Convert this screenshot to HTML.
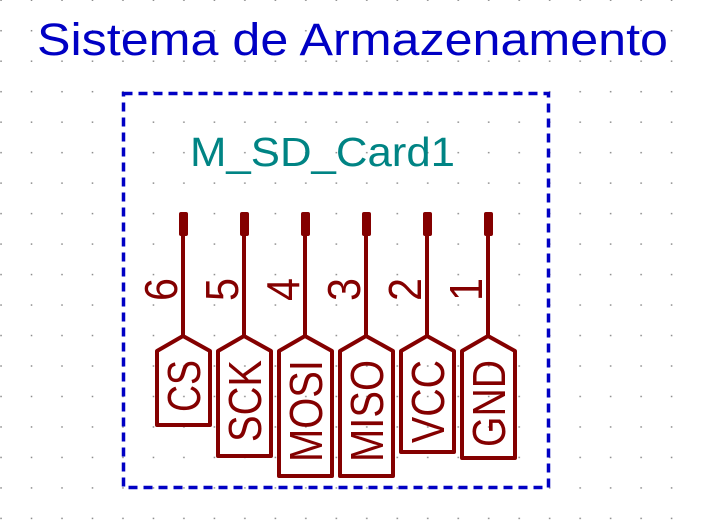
<!DOCTYPE html>
<html><head><meta charset="utf-8"><style>html,body{margin:0;padding:0;background:#fff}svg{display:block}</style></head>
<body>
<svg width="701" height="520" viewBox="0 0 701 520" xmlns="http://www.w3.org/2000/svg">
<defs>
<pattern id="g" x="0" y="-0.5" width="30.48" height="30.48" patternUnits="userSpaceOnUse">
<rect x="0.3" y="0" width="1.5" height="1.5" fill="#8a8a8a"/>
</pattern>
</defs>
<rect width="701" height="520" fill="url(#g)"/>
<text x="37" y="55" font-family="Liberation Sans, sans-serif" font-size="45" fill="#0000c4" textLength="631" lengthAdjust="spacingAndGlyphs">Sistema de Armazenamento</text>
<rect x="123.5" y="93.5" width="425" height="394" fill="none" stroke="#0000c4" stroke-width="3.5" stroke-dasharray="9,6"/>
<text x="190" y="166" font-family="Liberation Sans, sans-serif" font-size="41" fill="#008484" textLength="265" lengthAdjust="spacingAndGlyphs">M_SD_Card1</text>
<g stroke="#840000" stroke-width="4" fill="none" stroke-linejoin="round">
<path d="M183 236V336M157 351L183 336L210 351V425H157Z"/>
<path d="M244 236V336M218 351L244 336L271 351V456H218Z"/>
<path d="M305 236V336M279 351L305 336L332 351V476H279Z"/>
<path d="M366 236V336M340 351L366 336L393 351V476H340Z"/>
<path d="M427 236V336M401 351L427 336L454 351V452H401Z"/>
<path d="M488 236V336M462 351L488 336L515 351V458H462Z"/>
</g>
<g fill="#840000">
<rect x="179" y="212" width="9" height="24" rx="2"/>
<rect x="240" y="212" width="9" height="24" rx="2"/>
<rect x="301" y="212" width="9" height="24" rx="2"/>
<rect x="362" y="212" width="9" height="24" rx="2"/>
<rect x="423" y="212" width="9" height="24" rx="2"/>
<rect x="484" y="212" width="9" height="24" rx="2"/>
</g>
<g font-family="Liberation Sans, sans-serif" font-size="46" fill="#840000">
<text transform="translate(200,412) rotate(-90)" textLength="52" lengthAdjust="spacingAndGlyphs">CS</text>
<text transform="translate(261,442) rotate(-90)" textLength="82" lengthAdjust="spacingAndGlyphs">SCK</text>
<text transform="translate(322,462) rotate(-90)" textLength="102" lengthAdjust="spacingAndGlyphs">MOSI</text>
<text transform="translate(383,462) rotate(-90)" textLength="102" lengthAdjust="spacingAndGlyphs">MISO</text>
<text transform="translate(444,443) rotate(-90)" textLength="83" lengthAdjust="spacingAndGlyphs">VCC</text>
<text transform="translate(505,447) rotate(-90)" textLength="87" lengthAdjust="spacingAndGlyphs">GND</text>
<text transform="translate(177,301) rotate(-90)" textLength="23" lengthAdjust="spacingAndGlyphs">6</text>
<text transform="translate(238,301) rotate(-90)" textLength="23" lengthAdjust="spacingAndGlyphs">5</text>
<text transform="translate(299,301) rotate(-90)" textLength="23" lengthAdjust="spacingAndGlyphs">4</text>
<text transform="translate(360,301) rotate(-90)" textLength="23" lengthAdjust="spacingAndGlyphs">3</text>
<text transform="translate(421,301) rotate(-90)" textLength="23" lengthAdjust="spacingAndGlyphs">2</text>
<text transform="translate(482,301) rotate(-90)" textLength="23" lengthAdjust="spacingAndGlyphs">1</text>
</g>
</svg>
</body></html>
